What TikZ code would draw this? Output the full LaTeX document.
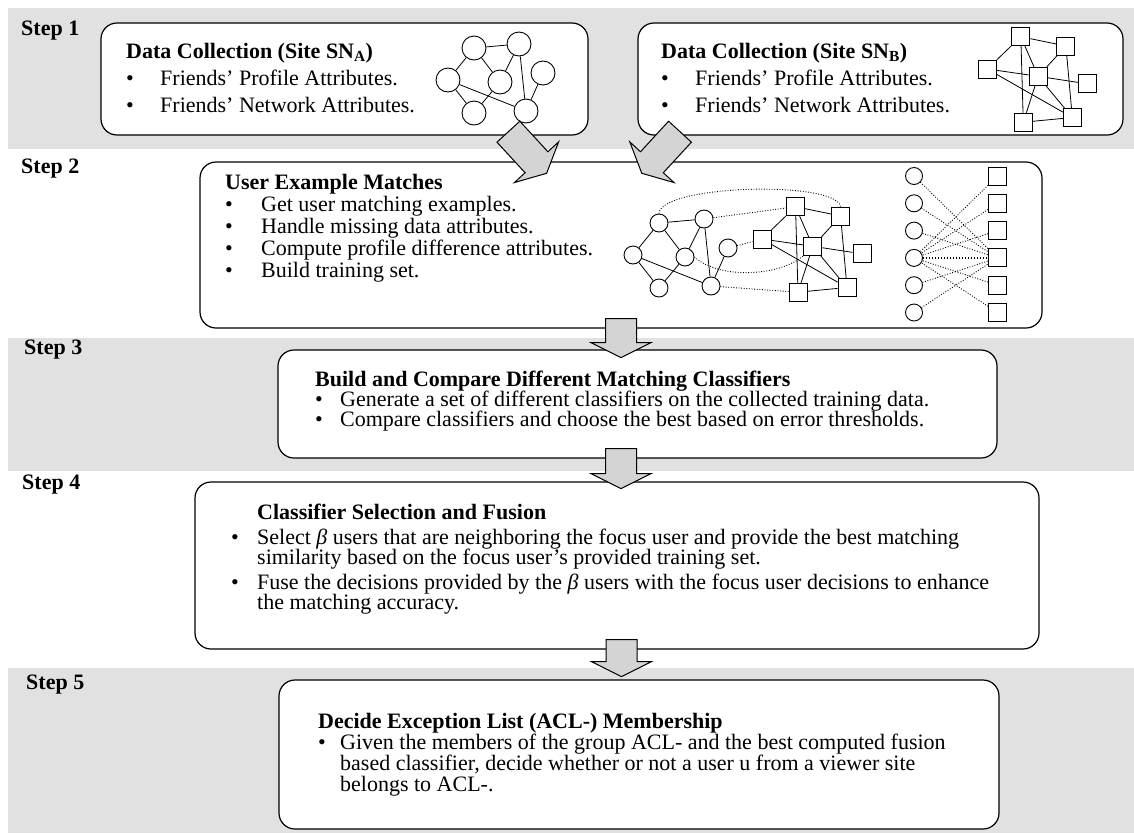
\documentclass[tikz,border=0pt]{standalone}
\usepackage{fontspec}
\setmainfont{Liberation Serif}
\usepackage{array}
\usetikzlibrary{calc}

\definecolor{bandgray}{HTML}{E1E1E1}
\definecolor{arrowgray}{HTML}{D3D4D3}

\tikzset{
  band/.style={fill=bandgray,draw=none},
  stepbox/.style={draw,line width=1.2pt,rounded corners=16pt,fill=white,inner sep=0},
  steplabel/.style={anchor=base west,inner sep=0,font=\fontsize{22}{22}\selectfont\bfseries},
  boxtext/.style={anchor=base west,inner sep=0},
  vcirc/.style={circle,draw,fill=white,line width=0.9pt,inner sep=0},
  vsq/.style={rectangle,draw,fill=white,line width=0.9pt,inner sep=0,minimum size=18pt},
  edge/.style={line width=0.8pt},
  dotedge/.style={line width=0.9pt,dash pattern=on 0.9pt off 1.7pt},
  bigarr/.style={fill=arrowgray,draw,line width=1pt,line join=miter}
}

% block arrow: start point, angle, length
\newcommand{\bigarrow}[3]{%
  \filldraw[bigarr,shift={#1},rotate=#2]
    (0,-15.5) -- ({#3-15},-15.5) -- ({#3-15},-30) -- (#3,0)
    -- ({#3-15},30) -- ({#3-15},15.5) -- (0,15.5) -- cycle;}

% friend network of circles: prefix, origin, circle size
\newcommand{\circnet}[3]{%
  \begin{scope}[shift={#2}]
    \foreach \n/\x/\y in {l/0/0,tl/26/-32,tr/71/-36,m/52/2,r/95/-7,bl/26/33,br/78/31}
      \node[vcirc,minimum size=#3] (#1\n) at (\x,\y) {};
    \foreach \u/\v in {tl/tr,tl/l,tl/m,tr/m,tr/br,l/bl,l/br,m/bl,r/br}
      \draw[edge] (#1\u) -- (#1\v);
  \end{scope}}

% friend network of squares: prefix, origin
\newcommand{\sqnet}[2]{%
  \begin{scope}[shift={#2}]
    \foreach \n/\x/\y in {s3/0/0,s1/33.5/-32.3,s2/78.6/-23,s4/50.8/7.3,s5/100/14.8,s6/36/53.2,s7/85/48.5}
      \node[vsq] (#1\n) at (\x,\y) {};
    \foreach \u/\v in {s1/s3,s1/s2,s1/s4,s1/s6,s2/s4,s2/s7,s3/s4,s3/s7,s4/s5,s4/s6,s4/s7,s6/s7}
      \draw[edge] (#1\u) -- (#1\v);
  \end{scope}}

\begin{document}
\begin{tikzpicture}[x=1pt,y=-1pt,font=\fontsize{22}{22}\selectfont]
% pixel grid: x to the right, y downwards
\useasboundingbox (0,0) rectangle (1134,833);
\fill[band] (8,8) rectangle (1134,149);
\fill[band] (8,338) rectangle (1134,471);
\fill[band] (8,668) rectangle (1134,833);

\node[steplabel] (l1) at (21,35) {Step 1};
\node[steplabel] (l2) at (21,173) {Step 2};
\node[steplabel] (l3) at (24,354) {Step 3};
\node[steplabel] (l4) at (22,489) {Step 4};
\node[steplabel] (l5) at (26,689) {Step 5};

\node[stepbox,minimum width=487,minimum height=112] (dcA) at (344.5,79) {};
\node[stepbox,minimum width=485,minimum height=112] (dcB) at (880.5,79) {};
\node[stepbox,minimum width=842,minimum height=166] (um) at (621,245) {};
\node[stepbox,minimum width=719,minimum height=108] (bc) at (637.5,404) {};
\node[stepbox,minimum width=844,minimum height=167] (cs) at (617,565.5) {};
\node[stepbox,minimum width=720,minimum height=149] (de) at (639,754.5) {};

% step 1
\node[boxtext] (dcAtxt) at (126,58) {\renewcommand{\arraystretch}{1.23}%
  \begin{tabular}[t]{@{}p{34pt}@{}l@{}}
  \multicolumn{2}{@{}l@{}}{\textbf{Data Collection (Site SN\textsubscript{A})}}\\
  \textbullet & Friends' Profile Attributes.\\
  \textbullet & Friends' Network Attributes.
  \end{tabular}};
\node[boxtext] (dcBtxt) at (661,58) {\renewcommand{\arraystretch}{1.23}%
  \begin{tabular}[t]{@{}p{34pt}@{}l@{}}
  \multicolumn{2}{@{}l@{}}{\textbf{Data Collection (Site SN\textsubscript{B})}}\\
  \textbullet & Friends' Profile Attributes.\\
  \textbullet & Friends' Network Attributes.
  \end{tabular}};
\circnet{a}{(448,80)}{24pt}
\sqnet{b}{(987.3,69)}

% step 2
\node[boxtext] (umtxt) at (225,189) {%
  \begin{tabular}[t]{@{}p{36pt}@{}l@{}}
  \multicolumn{2}{@{}l@{}}{\textbf{User Example Matches}}\\
  \textbullet & Get user matching examples.\\
  \textbullet & Handle missing data attributes.\\
  \textbullet & Compute profile difference attributes.\\
  \textbullet & Build training set.
  \end{tabular}};
\circnet{p}{(633,255)}{18pt}
\sqnet{q}{(762,239)}
\draw[dotedge] (ptl.north) .. controls (660,185) and (835,180) .. (qs2.north);
\draw[dotedge] (ptr) -- (qs1);
\draw[dotedge] (pr) -- (qs3);
\draw[dotedge] (pm.east) .. controls (720,280) and (780,276) .. (qs4.south west);
\draw[dotedge] (pbr) -- (qs6);
\foreach \i in {1,...,6} {
  \node[vcirc,minimum size=17pt] (lc\i) at (914,{176+27.3*(\i-1)}) {};
  \node[vsq] (rs\i) at (997.5,{176+27.3*(\i-1)}) {};
}
\foreach \i in {1,2,3,5,6} {
  \draw[dotedge] (lc\i) -- (rs4);
  \draw[dotedge] (rs\i) -- (lc4);
}
\draw[dotedge,line width=2pt,dash pattern=on 1.5pt off 1.5pt] (lc4) -- (rs4);

% step 3
\node[boxtext] (bctxt) at (315,386) {%
  \begin{tabular}[t]{@{}p{25pt}@{}l@{}}
  \multicolumn{2}{@{}l@{}}{\textbf{Build and Compare Different Matching Classifiers}}\\[-2pt]
  \textbullet & Generate a set of different classifiers on the collected training data.\\[-2pt]
  \textbullet & Compare classifiers and choose the best based on error thresholds.
  \end{tabular}};

% step 4
\node[boxtext] (cstxt) at (231,519) {%
  \begin{tabular}[t]{@{}p{26pt}@{}l@{}}
  & \textbf{Classifier Selection and Fusion}\\[3pt]
  \textbullet & Select \textit{β} users that are neighboring the focus user and provide the best matching\\[-2pt]
  & similarity based on the focus user's provided training set.\\[3pt]
  \textbullet & Fuse the decisions provided by the \textit{β} users with the focus user decisions to enhance\\[-2pt]
  & the matching accuracy.
  \end{tabular}};

% step 5
\node[boxtext] (detxt) at (318,728) {%
  \begin{tabular}[t]{@{}p{22pt}@{}l@{}}
  \multicolumn{2}{@{}l@{}}{\textbf{Decide Exception List (ACL-) Membership}}\\[-1pt]
  \textbullet & Given the members of the group ACL- and the best computed fusion\\[-1pt]
  & based classifier, decide whether or not a user u from a viewer site\\[-1pt]
  & belongs to ACL-.
  \end{tabular}};

% block arrows between the steps
\bigarrow{(508.4,131.7)}{-47.4}{56.5}
\bigarrow{(680,131.7)}{-132.6}{56.5}
\bigarrow{($(um.south)+(0,-10)$)}{-90}{39}
\bigarrow{($(bc.south)+(-16.5,-10)$)}{-90}{40}
\bigarrow{($(cs.south)+(4.5,-10)$)}{-90}{37}
\end{tikzpicture}
\end{document}
